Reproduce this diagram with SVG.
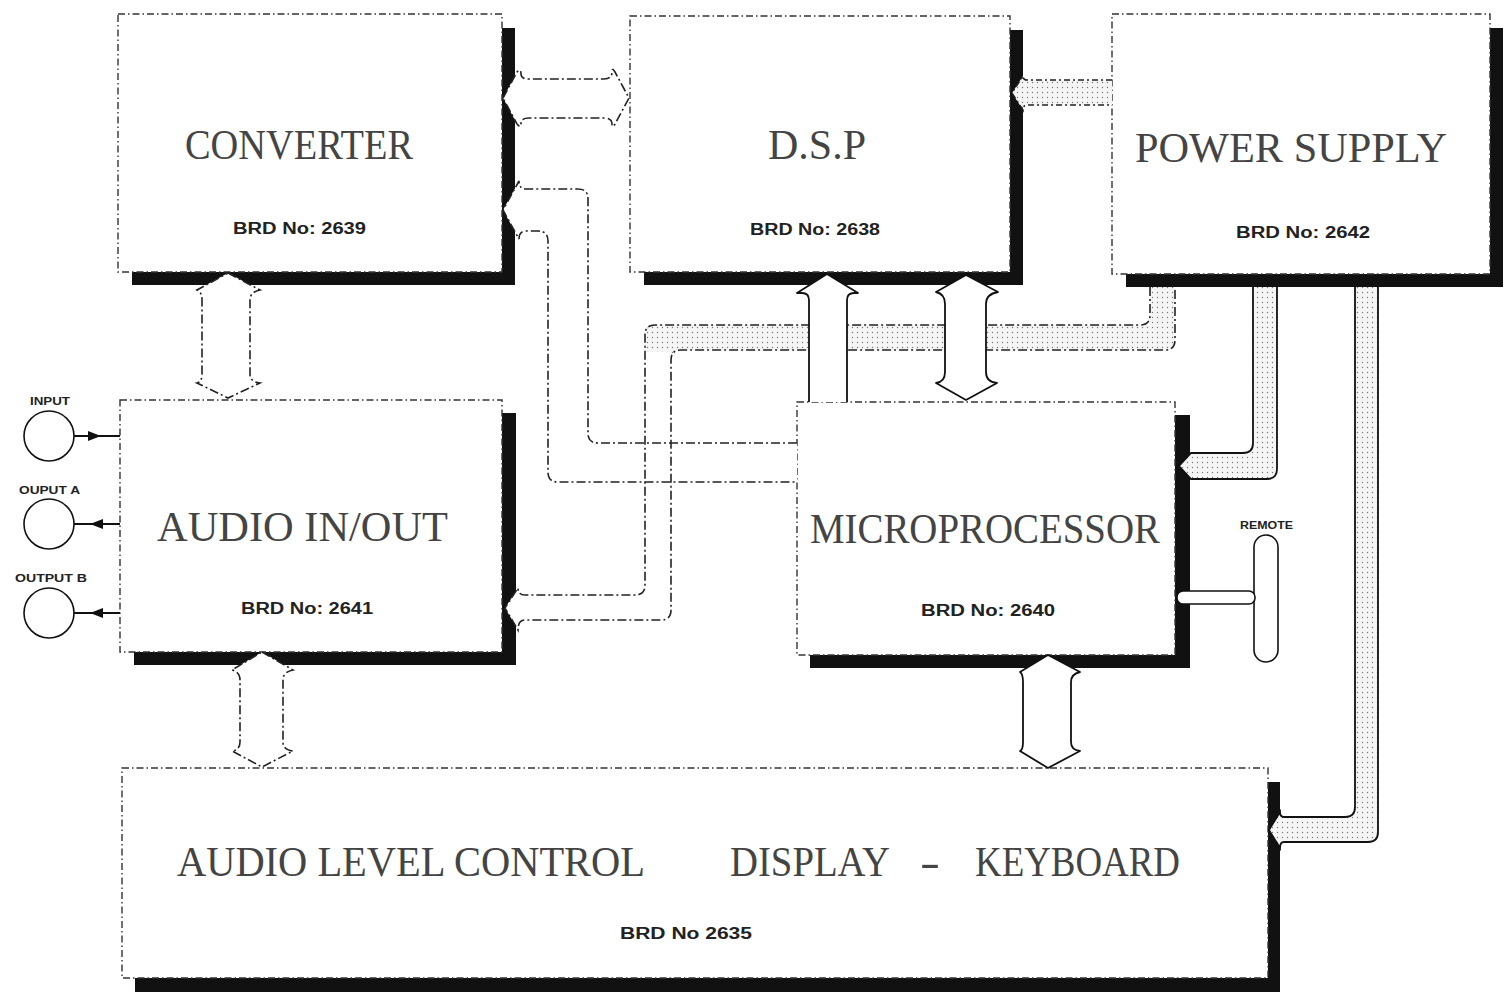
<svg xmlns="http://www.w3.org/2000/svg" width="1505" height="993" viewBox="0 0 1505 993">
<defs>
<pattern id="dots" width="5" height="5" patternUnits="userSpaceOnUse">
<rect width="5" height="5" fill="#f5f5f5"/>
<circle cx="2.5" cy="2.5" r="0.7" fill="#777"/>
</pattern>
<style>
.box{fill:#fff;stroke:#333;stroke-width:1.4;stroke-dasharray:7 3 1.5 3}
.shadow{fill:#111}
.title{font-family:"Liberation Serif","DejaVu Serif",serif;font-size:42px;fill:#444;text-anchor:start}
.brd{font-family:"Liberation Sans","DejaVu Sans",sans-serif;font-weight:bold;font-size:16px;fill:#222}
.small{font-family:"Liberation Sans","DejaVu Sans",sans-serif;font-weight:bold;font-size:11px;fill:#222}
.dd{fill:none;stroke:#222;stroke-width:1.6;stroke-dasharray:9 3 2 3}
.solid{fill:#fff;stroke:#111;stroke-width:1.8;stroke-linejoin:round}
.wfill{fill:#fff;stroke:none}
.sfill{fill:url(#dots);stroke:none}
.jack{fill:#fff;stroke:#111;stroke-width:1.6}
.wire{stroke:#111;stroke-width:2.2}
</style>
</defs>
<rect width="1505" height="993" fill="#fff"/>

<g id="converter">
<rect class="shadow" x="502" y="28" width="13" height="257"/>
<rect class="shadow" x="132" y="272" width="383" height="13"/>
<rect class="box" x="118" y="14" width="384" height="258"/>
<text class="title" x="185" y="159" textLength="228" lengthAdjust="spacingAndGlyphs">CONVERTER</text>
<text class="brd" x="233" y="234" textLength="133" lengthAdjust="spacingAndGlyphs">BRD  No: 2639</text>
</g>

<g id="dsp">
<rect class="shadow" x="1010" y="30" width="13" height="255"/>
<rect class="shadow" x="644" y="272" width="379" height="13"/>
<rect class="box" x="630" y="16" width="380" height="256"/>
<text class="title" x="768" y="159" textLength="98" lengthAdjust="spacingAndGlyphs">D.S.P</text>
<text class="brd" x="750" y="235" textLength="130" lengthAdjust="spacingAndGlyphs">BRD  No: 2638</text>
</g>

<g id="power-supply">
<rect class="shadow" x="1490" y="28" width="13" height="259"/>
<rect class="shadow" x="1126" y="274" width="377" height="13"/>
<rect class="box" x="1112" y="14" width="378" height="260"/>
<text class="title" x="1135" y="162" textLength="312" lengthAdjust="spacingAndGlyphs">POWER  SUPPLY</text>
<text class="brd" x="1236" y="238" textLength="134" lengthAdjust="spacingAndGlyphs">BRD  No: 2642</text>
</g>

<g id="audio-in-out">
<rect class="shadow" x="502" y="413" width="14" height="252"/>
<rect class="shadow" x="134" y="652" width="382" height="13"/>
<rect class="box" x="120" y="400" width="382" height="252"/>
<text class="title" x="157" y="541" textLength="291" lengthAdjust="spacingAndGlyphs">AUDIO  IN/OUT</text>
<text class="brd" x="241" y="614" textLength="132" lengthAdjust="spacingAndGlyphs">BRD  No: 2641</text>
</g>

<g id="microprocessor">
<rect class="shadow" x="1175" y="415" width="15" height="253"/>
<rect class="shadow" x="810" y="655" width="380" height="13"/>
<rect class="box" x="797" y="402" width="378" height="253"/>
<text class="title" x="810" y="543" textLength="350" lengthAdjust="spacingAndGlyphs">MICROPROCESSOR</text>
<text class="brd" x="921" y="616" textLength="134" lengthAdjust="spacingAndGlyphs">BRD  No: 2640</text>
</g>

<g id="audio-level-control">
<rect class="shadow" x="1268" y="782" width="12" height="210"/>
<rect class="shadow" x="135" y="978" width="1145" height="14"/>
<rect class="box" x="122" y="768" width="1146" height="210"/>
<text class="title" x="177" y="876" textLength="468" lengthAdjust="spacingAndGlyphs">AUDIO  LEVEL  CONTROL</text>
<text class="title" x="730" y="876" textLength="160" lengthAdjust="spacingAndGlyphs">DISPLAY</text>
<text class="title" x="920" y="876" textLength="20" lengthAdjust="spacingAndGlyphs">-</text>
<text class="title" x="975" y="876" textLength="205" lengthAdjust="spacingAndGlyphs">KEYBOARD</text>
<text class="brd" x="620" y="939" textLength="132" lengthAdjust="spacingAndGlyphs">BRD  No  2635</text>
</g>

<g id="input-jack">
<circle class="jack" cx="49" cy="436" r="25"/>
<text class="small" x="30" y="405" textLength="40" lengthAdjust="spacingAndGlyphs">INPUT</text>
</g>
<g id="output-a-jack">
<circle class="jack" cx="49" cy="524" r="25"/>
<text class="small" x="19" y="494" textLength="61" lengthAdjust="spacingAndGlyphs">OUPUT A</text>
</g>
<g id="output-b-jack">
<circle class="jack" cx="49" cy="613" r="25"/>
<text class="small" x="15" y="582" textLength="72" lengthAdjust="spacingAndGlyphs">OUTPUT B</text>
</g>

<g id="remote">
<rect class="jack" x="1254" y="535" width="24" height="127" rx="12"/>
<text class="small" x="1240" y="529" textLength="53" lengthAdjust="spacingAndGlyphs">REMOTE</text>
</g>

<g id="connectors">
<line class="wire" x1="74" y1="436" x2="120" y2="436"/>
<polygon points="88,431 101,436 88,441" fill="#111"/>
<line class="wire" x1="74" y1="524" x2="120" y2="524"/>
<polygon points="90,524 103,519 103,529" fill="#111"/>
<line class="wire" x1="74" y1="613" x2="120" y2="613"/>
<polygon points="90,613 103,608 103,618" fill="#111"/>

<path class="wfill" d="M797,443 L598,443 Q588,443 588,433 L588,199 Q588,189 578,189 L526,189 Q519,189 519,181 L503,210 L519,239 Q519,231 526,231 L538,231 Q548,231 548,241 L548,472 Q548,482 558,482 L797,482 Z"/>
<path class="wfill" d="M1150,287 L1150,315 Q1150,325 1140,325 L655,325 Q645,325 645,335 L645,585 Q645,595 635,595 L525,595 Q518,595 518,588 L505,608 L518,630 Q518,620 525,620 L661,620 Q671,620 671,610 L671,360 Q671,350 681,350 L1165,350 Q1175,350 1175,340 L1175,287 Z"/>
<path class="sfill" d="M1150,287 L1150,315 Q1150,325 1140,325 L655,325 Q645,325 645,335 L645,352 L671,352 L671,360 Q671,350 681,350 L1165,350 Q1175,350 1175,340 L1175,287 Z"/>

<path d="M503,98 L517,72 Q521,68 521,74 Q521,79 529,79 L604,79 Q612,79 612,72 Q612,67 615,72 L629,98 L615,124 Q612,129 612,124 Q612,118 604,118 L529,118 Q521,118 521,123 Q521,129 517,124 Z" fill="#fff" stroke="#222" stroke-width="1.6" stroke-dasharray="9 3 2 3"/>

<path class="dd" d="M797,443 L598,443 Q588,443 588,433 L588,199 Q588,189 578,189 L526,189 Q519,189 519,181 L503,210 L519,239 Q519,231 526,231 L538,231 Q548,231 548,241 L548,472 Q548,482 558,482 L797,482"/>

<path class="dd" d="M1150,287 L1150,315 Q1150,325 1140,325 L655,325 Q645,325 645,335 L645,585 Q645,595 635,595 L525,595 Q518,595 518,588 L505,608 L518,630 Q518,620 525,620 L661,620 Q671,620 671,610 L671,360 Q671,350 681,350 L1165,350 Q1175,350 1175,340 L1175,287"/>

<path class="sfill" d="M1253,287 L1253,443 Q1253,453 1243,453 L1191,453 L1179,466 L1191,479 L1267,479 Q1277,479 1277,469 L1277,287 Z"/>
<path d="M1253,287 L1253,443 Q1253,453 1243,453 L1191,453 L1179,466 L1191,479 L1267,479 Q1277,479 1277,469 L1277,287" fill="none" stroke="#111" stroke-width="1.8"/>

<path class="sfill" d="M1355,287 L1355,807 Q1355,817 1345,817 L1284,817 Q1280,817 1280,812 L1269,830 L1280,848 Q1280,842 1284,842 L1368,842 Q1378,842 1378,832 L1378,287 Z"/>
<path d="M1355,287 L1355,807 Q1355,817 1345,817 L1284,817 Q1280,817 1280,812 L1269,830 L1280,848 Q1280,842 1284,842 L1368,842 Q1378,842 1378,832 L1378,287" fill="none" stroke="#111" stroke-width="1.8"/>

<path class="sfill" d="M1112,80 L1027,80 Q1023,80 1023,76 L1012,93 L1023,110 Q1023,105 1027,105 L1112,105 Z"/>
<path d="M1112,80 L1027,80 Q1023,80 1023,76 L1012,93 L1023,110 Q1023,105 1027,105 L1112,105" fill="none" stroke="#222" stroke-width="1.6" stroke-dasharray="6 3 2 3"/>

<path class="solid" d="M809,402 L809,300 Q809,293 802,293 L797,293 L827,274 L858,293 L854,293 Q847,293 847,300 L847,402"/>
<path class="solid" d="M966,275 L998,292 Q986,294 986,304 L986,372 Q986,382 997,383 L966,400 L936,383 Q945,382 945,372 L945,304 Q945,294 936,292 Z"/>

<path d="M228,273 L260,290 Q250,292 250,300 L250,374 Q250,382 260,383 L228,398 L197,383 Q202,382 202,374 L202,300 Q202,292 197,290 Z" fill="#fff" stroke="#222" stroke-width="1.6" stroke-dasharray="9 3 2 3"/>
<path d="M262,652 L293,670 Q283,672 283,680 L283,742 Q283,750 293,751 L262,767 L232,751 Q240,750 240,742 L240,680 Q240,672 232,670 Z" fill="#fff" stroke="#222" stroke-width="1.6" stroke-dasharray="9 3 2 3"/>
<path class="solid" d="M1048,655 L1080,672 Q1071,674 1071,682 L1071,742 Q1071,750 1080,751 L1048,768 L1020,751 Q1023,750 1023,742 L1023,682 Q1023,674 1020,672 Z"/>

<rect x="1177" y="591" width="78" height="13" rx="6" fill="#fff" stroke="#111" stroke-width="1.6"/>
</g>
</svg>
